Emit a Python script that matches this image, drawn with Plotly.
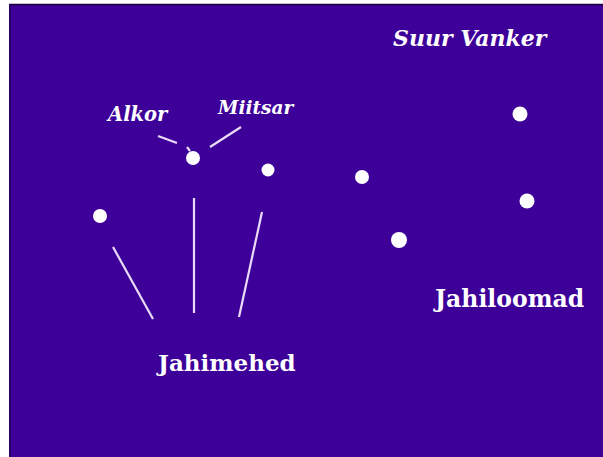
import plotly.graph_objects as go

# Star positions (pixel-like coordinates of the drawing)
star_x = [100, 193, 268, 362, 399, 520, 527]
star_y = [216, 158, 170, 177, 240, 114, 201]
star_size = [14, 14, 13, 14, 16, 15, 15]

# Pointer lines (start and end points)
line_x0 = [158, 210, 113, 194, 262, 187]
line_y0 = [136, 147, 247, 198, 212, 147]
line_x1 = [177, 241, 153, 194, 239, 190]
line_y1 = [143, 127, 319, 313, 317, 151]

# Labels
label_text = ["Suur Vanker", "Alkor", "Miitsar", "Jahimehed", "Jahiloomad"]
label_x = [470, 137, 255, 226, 508]
label_y = [38, 114, 107, 362, 299]
label_italic = [True, True, True, False, False]
label_size = [22, 19.5, 18.5, 23, 23.5]

BG = "#3d0099"

fig = go.Figure()

lx, ly = [], []
for a, b, c, d in zip(line_x0, line_y0, line_x1, line_y1):
    lx += [a, c, None]
    ly += [b, d, None]
fig.add_trace(go.Scatter(x=lx, y=ly, mode="lines",
                         line=dict(color="#eadcf7", width=2.2),
                         hoverinfo="skip", showlegend=False))
fig.add_trace(go.Scatter(x=star_x, y=star_y, mode="markers",
                         marker=dict(color="white", size=star_size, opacity=1,
                                     line=dict(width=0)),
                         showlegend=False))

for t, x, y, it, s in zip(label_text, label_x, label_y, label_italic, label_size):
    txt = f"<b><i>{t}</i></b>" if it else f"<b>{t}</b>"
    fig.add_annotation(x=x, y=y, text=txt, showarrow=False,
                       xanchor="center", yanchor="middle",
                       font=dict(family="DejaVu Serif", size=s, color="white"))

fig.update_layout(
    width=603, height=457,
    margin=dict(l=0, r=0, t=0, b=0),
    paper_bgcolor="white", plot_bgcolor="white",
    xaxis=dict(range=[0, 603], visible=False, fixedrange=True),
    yaxis=dict(range=[457, 0], visible=False, fixedrange=True),
    shapes=[
        dict(type="rect", xref="x", yref="y", x0=9, x1=603, y0=4, y1=457,
             fillcolor=BG, line=dict(width=0), layer="below"),
        dict(type="line", xref="x", yref="y", x0=9, x1=603, y0=4.5, y1=4.5,
             line=dict(color="#1a0033", width=1.5), layer="below"),
        dict(type="line", xref="x", yref="y", x0=10, x1=10, y0=4, y1=457,
             line=dict(color="#2a0066", width=2), layer="below"),
    ],
)

fig.write_html(
    "out.html",
    config={"displayModeBar": False},
    post_script="document.body.style.margin='0';document.body.style.overflow='hidden';",
)
